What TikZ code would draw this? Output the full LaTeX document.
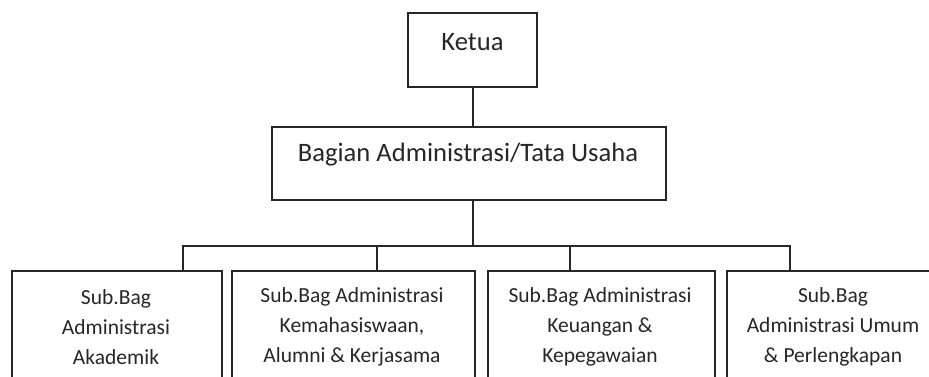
\documentclass[tikz,border=0pt]{standalone}
\usepackage{fontspec}
\setmainfont{Carlito}
\begin{document}
\begin{tikzpicture}[x=1pt,y=-1pt,
  box/.style={draw=black!85,line width=1.6pt,inner sep=0pt},
  conn/.style={draw=black!85,line width=1.6pt},
  toptext/.style={text=black!85,font=\fontsize{26.6}{30}\selectfont,inner sep=0pt},
  subtext/.style={text=black!85,font=\fontsize{21.5}{30}\selectfont,align=center,inner sep=0pt}]
\useasboundingbox (0,0) rectangle (929,376);
\clip (0,0) rectangle (929,376);

% top levels
\node[box,minimum width=129pt,minimum height=74pt] (ketua) at (472.5,50) {};
\node[toptext] (ketuaT) at (472.5,42) {Ketua};
\node[box,minimum width=394pt,minimum height=73pt] (bagian) at (469,163.5) {};
\node[toptext] (bagianT) at (468,155) {Bagian Administrasi/Tata Usaha};

% sub-sections (their lower parts run off the page)
\node[box,minimum width=210pt,minimum height=140pt,anchor=north west] (s1) at (11,270) {};
\node[box,minimum width=243pt,minimum height=140pt,anchor=north west] (s2) at (231,270) {};
\node[box,minimum width=227pt,minimum height=140pt,anchor=north west] (s3) at (487,270) {};
\node[box,minimum width=214pt,minimum height=140pt,anchor=north west] (s4) at (726,270) {};

\node[subtext] (t1) at (116,327) {Sub.Bag\\Administrasi\\Akademik};
\node[subtext] (t2) at (352,327) {Sub.Bag Administrasi\\Kemahasiswaan,\\Alumni \& Kerjasama};
\node[subtext] (t3) at (600,327) {Sub.Bag Administrasi\\Keuangan \&\\Kepegawaian};
\node[subtext] (t4) at (833,327) {Sub.Bag\\Administrasi Umum\\\& Perlengkapan};

% connectors
\coordinate (bus) at (473,246);
\draw[conn] (ketua.south -| bus) -- (bagian.north -| bus);
\draw[conn] (bagian.south -| bus) -- (bus);
\draw[conn] (183,270) coordinate (d1) -- (183,246) -- (790,246) -- (790,270) coordinate (d4);
\draw[conn] (377,246) -- (s2.north -| 377,0);
\draw[conn] (570,246) -- (s3.north -| 570,0);
\end{tikzpicture}
\end{document}
